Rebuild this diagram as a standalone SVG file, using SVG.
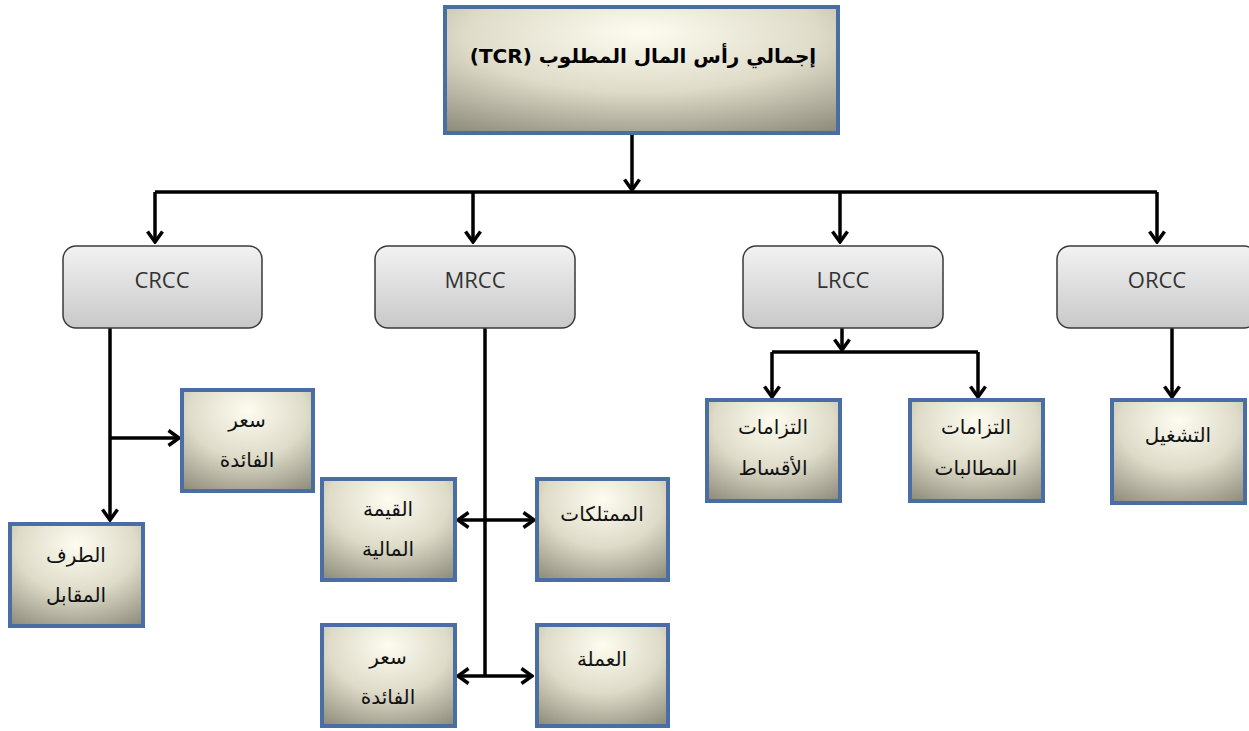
<svg xmlns="http://www.w3.org/2000/svg" width="1249" height="731" viewBox="0 0 1249 731">
<defs>
<radialGradient id="beige" cx="50%" cy="25%" r="90%" fx="50%" fy="20%">
<stop offset="0" stop-color="#fdfcef"/>
<stop offset="0.5" stop-color="#dedbc9"/>
<stop offset="1" stop-color="#8a8876"/>
</radialGradient>
<linearGradient id="gray" x1="0" y1="0" x2="0" y2="1">
<stop offset="0" stop-color="#f2f2f2"/>
<stop offset="1" stop-color="#c9c9c9"/>
</linearGradient>
<marker id="ah" viewBox="0 0 14 18" refX="12" refY="9" markerWidth="14" markerHeight="18" markerUnits="userSpaceOnUse" orient="auto-start-reverse">
<path d="M1.5,1.5 L12,9 L1.5,16.5" fill="none" stroke="#000" stroke-width="3.5"/>
</marker>
</defs>
<style>
.box{fill:url(#beige);stroke:#4a6ea3;stroke-width:4}
.rbox{fill:url(#gray);stroke:#3a3a3a;stroke-width:1.5}
.lbl{font-family:"Open Sans","Liberation Sans",sans-serif;font-size:22px;fill:#333;text-anchor:middle}
.ar{font-family:"DejaVu Sans","Noto Sans",sans-serif;font-size:20px;fill:#111;text-anchor:middle}
.top{font-family:"DejaVu Sans","Liberation Serif",serif;font-size:20px;font-weight:bold;fill:#000;text-anchor:middle}
.c{fill:none;stroke:#000;stroke-width:3.5}
</style>
<rect width="1249" height="731" fill="#fff"/>

<g id="connectors">
<path class="c" d="M632,135 V190" marker-end="url(#ah)"/>
<path class="c" d="M155,192 H1157"/>
<path class="c" d="M155,192 V242" marker-end="url(#ah)"/>
<path class="c" d="M473,192 V242" marker-end="url(#ah)"/>
<path class="c" d="M840,192 V242" marker-end="url(#ah)"/>
<path class="c" d="M1157,192 V242" marker-end="url(#ah)"/>
<path class="c" d="M110,328 V520" marker-end="url(#ah)"/>
<path class="c" d="M110,438 H179" marker-end="url(#ah)"/>
<path class="c" d="M485,328 V676"/>
<path class="c" d="M458,520 H534" marker-start="url(#ah)" marker-end="url(#ah)"/>
<path class="c" d="M458,676 H532" marker-start="url(#ah)" marker-end="url(#ah)"/>
<path class="c" d="M842,328 V350" marker-end="url(#ah)"/>
<path class="c" d="M772,352 H978"/>
<path class="c" d="M772,352 V397" marker-end="url(#ah)"/>
<path class="c" d="M978,352 V397" marker-end="url(#ah)"/>
<path class="c" d="M1172,328 V397" marker-end="url(#ah)"/>
</g>

<g id="tcr">
<rect class="box" x="445" y="7" width="393" height="126"/>
<text class="top" x="643" y="63" direction="rtl">إجمالي رأس المال المطلوب (TCR)</text>
</g>

<g id="crcc">
<rect class="rbox" x="63" y="246" width="199" height="82" rx="13"/>
<text class="lbl" x="162" y="288">CRCC</text>
</g>
<g id="mrcc">
<rect class="rbox" x="375" y="246" width="200" height="82" rx="13"/>
<text class="lbl" x="475" y="288">MRCC</text>
</g>
<g id="lrcc">
<rect class="rbox" x="743" y="246" width="200" height="82" rx="13"/>
<text class="lbl" x="843" y="288">LRCC</text>
</g>
<g id="orcc">
<rect class="rbox" x="1057" y="246" width="200" height="82" rx="13"/>
<text class="lbl" x="1157" y="288">ORCC</text>
</g>

<g id="crcc-interest">
<rect class="box" x="182" y="390" width="131" height="101"/>
<text class="ar" x="247" y="427" direction="rtl">سعر</text>
<text class="ar" x="247" y="467" direction="rtl">الفائدة</text>
</g>
<g id="counterparty">
<rect class="box" x="10" y="524" width="133" height="102"/>
<text class="ar" x="76" y="562" direction="rtl">الطرف</text>
<text class="ar" x="76" y="602" direction="rtl">المقابل</text>
</g>
<g id="market-value">
<rect class="box" x="322" y="479" width="133" height="101"/>
<text class="ar" x="388" y="516" direction="rtl">القيمة</text>
<text class="ar" x="388" y="556" direction="rtl">المالية</text>
</g>
<g id="property">
<rect class="box" x="537" y="479" width="131" height="101"/>
<text class="ar" x="602" y="521" direction="rtl">الممتلكات</text>
</g>
<g id="mrcc-interest">
<rect class="box" x="322" y="625" width="133" height="101"/>
<text class="ar" x="388" y="664" direction="rtl">سعر</text>
<text class="ar" x="388" y="704" direction="rtl">الفائدة</text>
</g>
<g id="currency">
<rect class="box" x="537" y="625" width="131" height="101"/>
<text class="ar" x="602" y="666" direction="rtl">العملة</text>
</g>
<g id="premium-liab">
<rect class="box" x="707" y="400" width="133" height="101"/>
<text class="ar" x="773" y="434" direction="rtl">التزامات</text>
<text class="ar" x="773" y="475" direction="rtl">الأقساط</text>
</g>
<g id="claims-liab">
<rect class="box" x="910" y="400" width="133" height="101"/>
<text class="ar" x="976" y="434" direction="rtl">التزامات</text>
<text class="ar" x="976" y="475" direction="rtl">المطالبات</text>
</g>
<g id="operational">
<rect class="box" x="1112" y="400" width="133" height="103"/>
<text class="ar" x="1178" y="442" direction="rtl">التشغيل</text>
</g>
</svg>
